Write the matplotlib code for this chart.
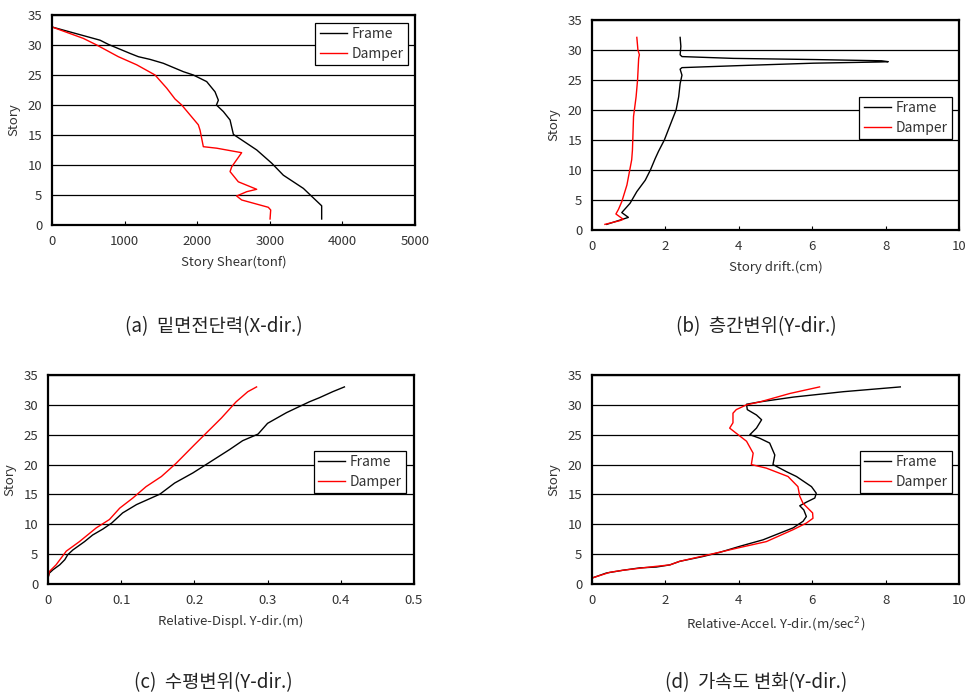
import numpy as np
import matplotlib
matplotlib.use('Agg')
import matplotlib.pyplot as plt
from matplotlib.ticker import FormatStrFormatter

plt.rcParams['font.family'] = ['Noto Sans CJK KR', 'DejaVu Sans']

# (a) story shear, X-dir
shear_frame_story = [1, 3.2, 6.1, 8.3, 10.3, 12.5, 15.1, 17.5, 18.9, 20, 20.8, 22.2,
                     23.9, 25, 25.55, 26.95, 27.6, 28.05, 28.6, 30.1, 30.8, 33]
shear_frame = [3714, 3714, 3462, 3186, 3026, 2820, 2498, 2452, 2360, 2265, 2291, 2245,
               2130, 1946, 1809, 1533, 1350, 1189, 1074, 776, 661, 0]
shear_damper_story = [1, 2.5, 2.95, 4.17, 4.83, 5.55, 5.95, 7.2, 8.9, 9.7, 12.05, 12.8,
                      13.05, 15.8, 16.7, 20, 21, 22.8, 25, 26.7, 28.05, 30, 31.1, 33]
shear_damper = [3003, 3012, 2979, 2612, 2543, 2681, 2819, 2566, 2452, 2475, 2612, 2268,
                2084, 2039, 2015, 1786, 1694, 1580, 1419, 1166, 913, 615, 431, 0]

# (b) story drift, Y-dir
drift_frame_story = [0.94, 2.1, 2.9, 4.45, 6.4, 8.3, 10, 11.9, 13.1, 15, 18.3,
                     20, 22.2, 24.4, 25.8, 26.4, 26.8, 27.06, 27.4, 27.8, 28.0,
                     28.05, 28.2, 28.4, 28.6, 28.9, 29.2, 30.6, 32.1]
drift_frame = [0.40, 0.99, 0.81, 1.035, 1.22, 1.45, 1.59, 1.72, 1.81,
               1.97, 2.18, 2.29, 2.36, 2.40, 2.45, 2.42, 2.40, 2.45, 4.03, 6.03,
               7.84, 8.07, 7.89, 6.12, 3.85, 2.45, 2.40, 2.42, 2.40]
drift_damper_story = [0.94, 1.56, 1.78, 2.67, 3.44, 4.72, 7.5, 11.7, 13.3, 15, 18.9,
                      22.2, 25, 28.6, 29.2, 30, 32.1]
drift_damper = [0.35, 0.76, 0.85, 0.65, 0.72, 0.81, 0.95, 1.08, 1.10, 1.11, 1.13,
                1.20, 1.24, 1.27, 1.29, 1.25, 1.22]

# (c) relative displacement, Y-dir
disp_frame_story = [1, 1.84, 2.4, 3.2, 4.07, 4.9, 5.7, 7.1, 8.2, 9.2, 10.2, 11.9,
                    13.3, 15.05, 16.9, 18.6, 20, 22.5, 24.0, 25.1, 26.9, 28.7,
                    30.5, 31.2, 32.2, 33]
disp_frame = [0, 0.002, 0.007, 0.016, 0.023, 0.027, 0.034, 0.050, 0.061, 0.075,
              0.087, 0.102, 0.121, 0.153, 0.173, 0.198, 0.216, 0.248, 0.266, 0.287,
              0.300, 0.326, 0.357, 0.371, 0.389, 0.405]
disp_damper_story = [1, 2.1, 3.2, 5.5, 7.1, 9.4, 10.8, 12.7, 14.4, 16.3, 18, 20.2,
                     23.3, 25, 27.8, 30.5, 32.2, 33]
disp_damper = [0, 0.002, 0.011, 0.025, 0.043, 0.066, 0.084, 0.098, 0.116, 0.134,
               0.155, 0.175, 0.200, 0.214, 0.237, 0.257, 0.273, 0.285]

# (d) relative acceleration, Y-dir
acc_frame_story = [1, 1.84, 2.3, 2.7, 2.84, 3.2, 3.8, 4.6, 5.3, 6.3, 7.4, 8.5, 9.4,
                   10.5, 11.3, 12.4, 13.1, 13.7, 14.4, 15.2, 16.3, 18.0, 18.8, 20,
                   21.6, 23.6, 24.4, 25, 26.1, 27.5, 28.3, 29.2, 30.1, 30.5, 31.3,
                   32.2, 33]
acc_frame = [0, 0.39, 0.84, 1.30, 1.75, 2.12, 2.39, 3.02, 3.48, 4.02, 4.66, 5.11,
             5.48, 5.75, 5.84, 5.77, 5.66, 5.84, 6.07, 6.11, 5.98, 5.57, 5.30, 4.93,
             4.98, 4.84, 4.57, 4.30, 4.48, 4.62, 4.48, 4.23, 4.21, 4.58, 5.49, 6.85,
             8.40]
acc_damper_story = [1, 1.95, 2.3, 2.84, 3.2, 3.8, 5.2, 6.1, 7.1, 9.1, 10.2, 11.0,
                    11.9, 13.5, 14.7, 16.3, 18.0, 19.4, 20, 21.9, 23.9, 25, 26.1,
                    27, 28.6, 29.2, 30, 30.5, 31.9, 33]
acc_damper = [0, 0.48, 0.84, 1.57, 2.12, 2.39, 3.39, 4.02, 4.75, 5.48, 5.84, 6.02,
              6.01, 5.75, 5.66, 5.61, 5.34, 4.75, 4.34, 4.39, 4.21, 3.98, 3.75,
              3.84, 3.84, 3.93, 4.21, 4.58, 5.39, 6.2]

series_labels = ['Frame', 'Damper']
captions = ['(a)  밑면전단력(X-dir.)', '(b)  층간변위(Y-dir.)',
            '(c)  수평변위(Y-dir.)', '(d)  가속도 변화(Y-dir.)']

txt = '#333333'

fig = plt.figure(figsize=(9.69, 6.94), dpi=100)


def make_panel(rect, xlim, xstep, xlabel, frame, damper, legend_anchor, fmt=None):
    ax = fig.add_axes(rect)
    ax.plot(frame[0], frame[1], color='black', lw=1.0, label=series_labels[0])
    ax.plot(damper[0], damper[1], color='red', lw=1.0, label=series_labels[1])
    ax.set_xlim(0, xlim)
    ax.set_ylim(0, 35)
    ax.set_xticks(np.arange(0, xlim + xstep / 2, xstep))
    ax.set_yticks(np.arange(0, 36, 5))
    if fmt:
        ax.xaxis.set_major_formatter(FormatStrFormatter(fmt))
    ax.yaxis.grid(True, color='black', lw=0.9)
    ax.set_axisbelow(True)
    for s in ax.spines.values():
        s.set_linewidth(1.6)
        s.set_color('black')
    ax.tick_params(axis='x', direction='in', length=3, width=0.8, pad=7)
    ax.tick_params(axis='y', length=0, pad=7)
    ax.tick_params(labelsize=9.5, labelcolor=txt)
    ax.set_xlabel(xlabel, fontsize=9.5, color=txt, labelpad=6)
    ax.set_ylabel('Story', fontsize=9.5, color=txt, labelpad=5)
    leg = ax.legend(loc='upper right', bbox_to_anchor=legend_anchor, fontsize=10,
                    fancybox=False, framealpha=1, edgecolor='black',
                    handlelength=1.95, borderpad=0.3, labelspacing=0.4,
                    handletextpad=0.35, borderaxespad=0)
    leg.get_frame().set_linewidth(0.9)
    for t in leg.get_texts():
        t.set_color(txt)
    return ax


make_panel([0.0537, 0.6758, 0.3746, 0.3026], 5000, 1000, 'Story Shear(tonf)',
           (shear_frame, shear_frame_story), (shear_damper, shear_damper_story), (0.98, 0.962))
make_panel([0.611, 0.6686, 0.3787, 0.3026], 10, 2, 'Story drift.(cm)',
           (drift_frame, drift_frame_story), (drift_damper, drift_damper_story), (0.98, 0.633))
make_panel([0.0495, 0.1585, 0.3777, 0.3012], 0.5, 0.1, 'Relative-Displ. Y-dir.(m)',
           (disp_frame, disp_frame_story), (disp_damper, disp_damper_story), (0.978, 0.636), fmt='%g')
make_panel([0.611, 0.1585, 0.3787, 0.3012], 10, 2, 'Relative-Accel. Y-dir.(m/sec$^2$)',
           (acc_frame, acc_frame_story), (acc_damper, acc_damper_story), (0.981, 0.636))

cap_pos = [(0.221, 0.529), (0.781, 0.529), (0.220, 0.017), (0.780, 0.017)]
for (cx, cy), c in zip(cap_pos, captions):
    fig.text(cx, cy, c, ha='center', va='center', fontsize=13.5, color='#222222')

fig.savefig('out.png', dpi=100)
